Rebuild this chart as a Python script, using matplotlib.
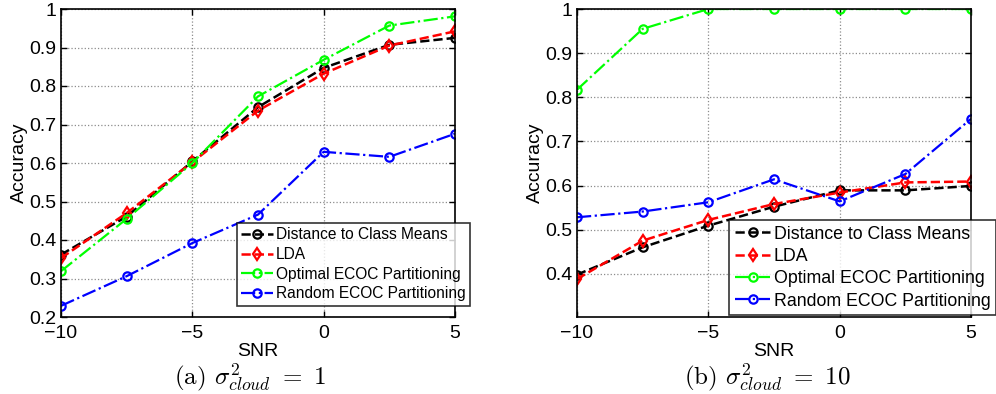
import numpy as np
import matplotlib
matplotlib.use("Agg")
import matplotlib.pyplot as plt

plt.rcParams['font.family'] = ['Liberation Sans', 'DejaVu Sans']
plt.rcParams['mathtext.fontset'] = 'cm'

# SNR values shared by both panels
snr = [-10, -7.5, -5, -2.5, 0, 2.5, 5]

# panel (a): sigma^2_cloud = 1
a_dist = [0.362, 0.461, 0.604, 0.745, 0.847, 0.907, 0.925]
a_lda = [0.353, 0.470, 0.602, 0.736, 0.832, 0.905, 0.942]
a_opt = [0.319, 0.455, 0.600, 0.773, 0.868, 0.957, 0.981]
a_rand = [0.229, 0.306, 0.392, 0.466, 0.629, 0.616, 0.676]

# panel (b): sigma^2_cloud = 10
b_dist = [0.398, 0.460, 0.509, 0.552, 0.589, 0.589, 0.599]
b_lda = [0.388, 0.475, 0.522, 0.558, 0.584, 0.607, 0.609]
b_opt = [0.817, 0.955, 1.0, 1.0, 1.0, 1.0, 1.0]
b_rand = [0.528, 0.541, 0.562, 0.614, 0.564, 0.626, 0.751]

labels = ['Distance to Class Means', 'LDA',
          'Optimal ECOC Partitioning', 'Random ECOC Partitioning']
captions = [r'(a) $\sigma^2_{cloud}\ =\ 1$', r'(b) $\sigma^2_{cloud}\ =\ 10$']

fig = plt.figure(figsize=(9.96, 3.94), dpi=100)
ax1 = fig.add_axes([61/996, 1-317/394, 394/996, 308/394])
ax2 = fig.add_axes([577/996, 1-317/394, 394/996, 308/394])

# axes, series, y-limits, legend lower-right corner (px), legend font, caption x (px)
panels = [(ax1, a_dist, a_lda, a_opt, a_rand, (0.2, 1.0), 470, 306, 11.2, 250),
          (ax2, b_dist, b_lda, b_opt, b_rand, (0.302, 1.0), 996, 315, 12.8, 767)]

for i, (ax, d, l, o, r, ylim, lx, ly, lfs, cx) in enumerate(panels):
    ax.plot(snr, d, color='k', ls='--', lw=1.8, marker='o', ms=6,
            mfc='none', mew=1.6, label=labels[0])
    ax.plot(snr, l, color='r', ls='--', lw=1.8, marker='d', ms=6,
            mfc='none', mew=1.6, label=labels[1])
    ax.plot(snr, o, color=(0, 1, 0), ls='-.', lw=1.6, marker='o', ms=6,
            mfc='none', mew=1.6, label=labels[2])
    ax.plot(snr, r, color='b', ls='-.', lw=1.6, marker='o', ms=6,
            mfc='none', mew=1.6, label=labels[3])
    ax.set_xlim(-10, 5)
    ax.set_ylim(*ylim)
    ax.set_xticks([-10, -5, 0, 5])
    yt = np.round(np.arange(0.2, 1.01, 0.1), 1)
    yt = yt[yt >= ylim[0]]
    ax.set_yticks(yt)
    ax.set_yticklabels(['1' if v == 1 else f'{v:g}' for v in yt])
    ax.grid(True, ls=':', color='0.55', lw=0.9)
    ax.tick_params(direction='in', labelsize=14, top=True, right=True,
                   length=4, width=1)
    ax.tick_params(axis='x', pad=6)
    for s in ax.spines.values():
        s.set_linewidth(1.2)
    ax.set_xlabel('SNR', fontsize=14)
    ax.set_ylabel('Accuracy', fontsize=14)
    ax.xaxis.set_label_coords(0.5, -0.083)
    ax.yaxis.set_label_coords(-0.083, 0.5)
    leg = ax.legend(loc='lower right', bbox_to_anchor=(lx/996, 1-ly/394),
                    bbox_transform=fig.transFigure, fontsize=lfs,
                    frameon=True, fancybox=False, edgecolor='k',
                    handlelength=2.0, handletextpad=0.2, borderpad=0.3,
                    labelspacing=0.3, borderaxespad=0)
    leg.get_frame().set_linewidth(1.2)
    fig.text(cx/996, 1-377/394, captions[i], ha='center', va='center',
             fontsize=18, family='cmr10')

fig.savefig('out.png', dpi=100)
